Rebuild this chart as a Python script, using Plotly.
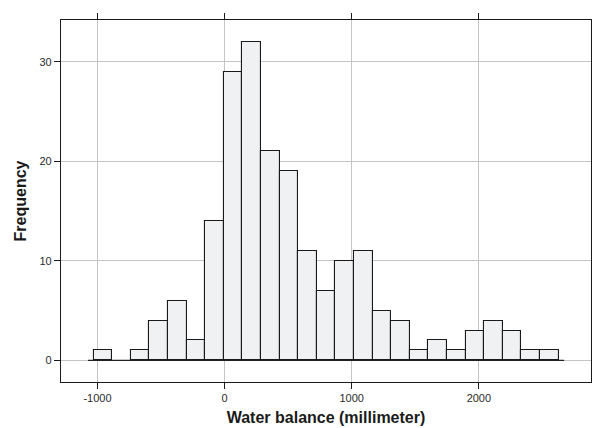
import plotly.graph_objects as go

# Histogram of water balance: bin layout and counts
bin_start = -1031.0
bin_width = 146.3
counts = [1, 0, 1, 4, 6, 2, 14, 29, 32, 21, 19, 11, 7, 10, 11, 5, 4, 1, 2, 1, 3, 4, 3, 1, 1]

x_tick_vals = [-1000, 0, 1000, 2000]
x_tick_text = ["-1000", "0", "1000", "2000"]
y_tick_vals = [0, 10, 20, 30]
y_tick_text = ["0", "10", "20", "30"]

edges = [bin_start + i * bin_width for i in range(len(counts) + 1)]
centers = [(edges[i] + edges[i + 1]) / 2 for i in range(len(counts))]

# empty bins are not drawn as boxes
bar_x = [c for c, n in zip(centers, counts) if n > 0]
bar_y = [n for n in counts if n > 0]

fig = go.Figure()

fig.add_trace(go.Bar(
    x=bar_x, y=bar_y, width=bin_width,
    marker=dict(color="#f0f1f3", line=dict(color="#1a1a1a", width=1.1)),
    showlegend=False,
))

# baseline under the bars
pad = 0.3 * bin_width
fig.add_trace(go.Scatter(
    x=[edges[0] - pad, edges[-1] + pad], y=[0, 0], mode="lines",
    line=dict(color="#222222", width=1.2), hoverinfo="skip", showlegend=False,
))

axis_common = dict(
    showline=True, linecolor="#1a1a1a", linewidth=1.2, mirror="ticks",
    ticks="outside", ticklen=6, tickwidth=1, tickcolor="#1a1a1a",
    showgrid=True, gridcolor="#c4c4c4", gridwidth=1, zeroline=False,
    automargin=False,
    tickfont=dict(family="Liberation Sans, Arial, sans-serif", size=11, color="#2a2a2a"),
    title_font=dict(family="Liberation Sans, Arial, sans-serif", size=16, color="#1a1a1a"),
)

fig.update_layout(
    width=592, height=428,
    margin=dict(l=61.3, r=1.3, t=20.3, b=45.7, autoexpand=False),
    paper_bgcolor="white", plot_bgcolor="white",
    bargap=0,
    xaxis=dict(
        range=[-1287, 2882], tickvals=x_tick_vals, ticktext=x_tick_text,
        title=dict(text="<b>Water balance (millimeter)</b>", standoff=8),
        **axis_common,
    ),
    yaxis=dict(
        range=[-2.17, 34.2], tickvals=y_tick_vals, ticktext=y_tick_text,
        title=dict(text="<b>Frequency</b>", standoff=8),
        **axis_common,
    ),
)

fig.write_html("out.html")
